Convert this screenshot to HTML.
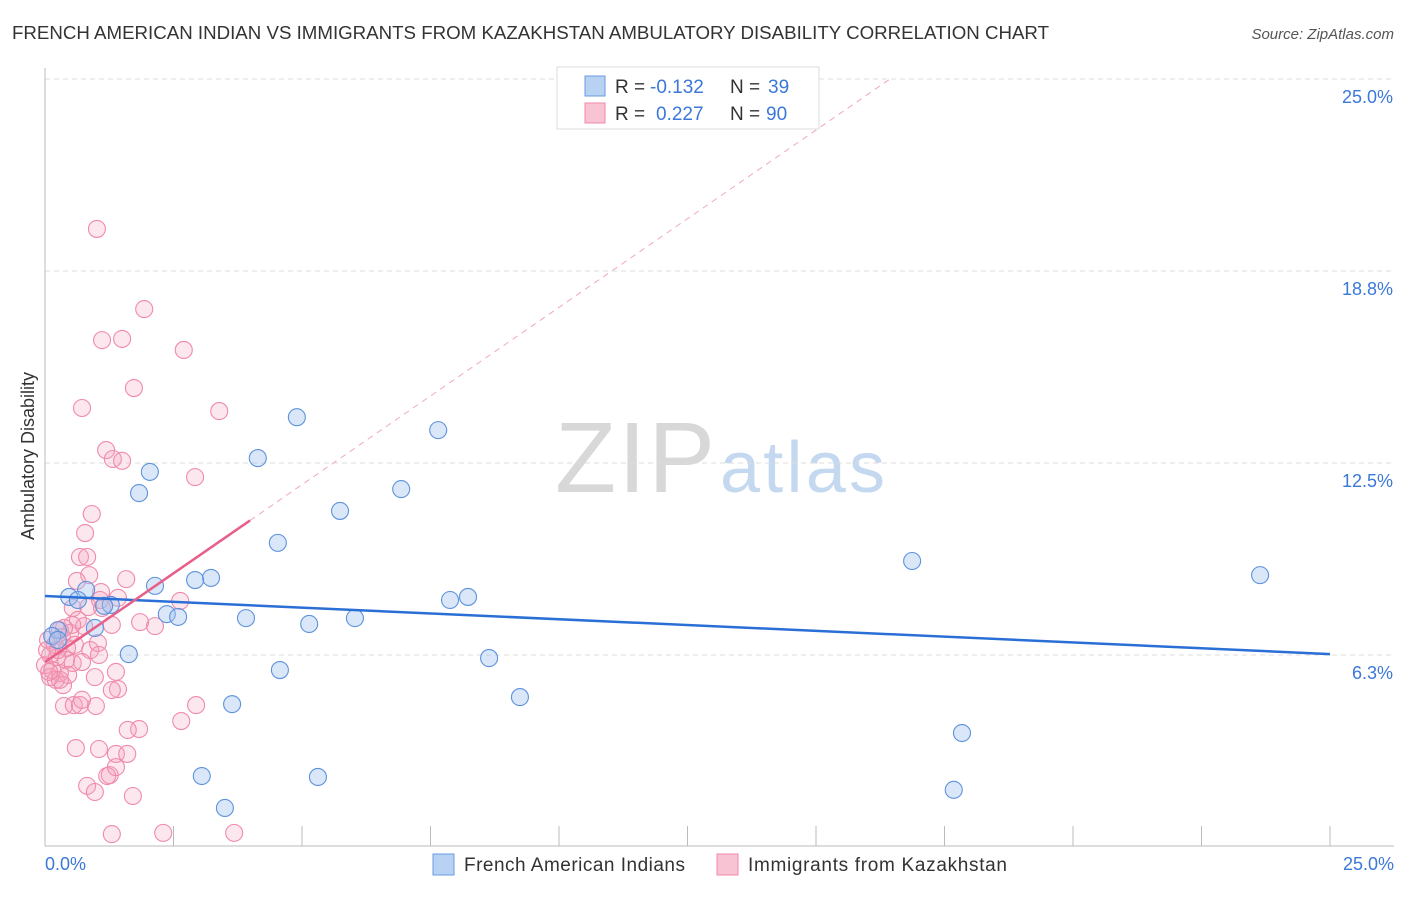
<!DOCTYPE html>
<html><head><meta charset="utf-8"><style>
body{margin:0;background:#fff;font-family:"Liberation Sans",sans-serif;}
svg text{font-family:"Liberation Sans",sans-serif;}
</style></head><body>
<svg id="c" width="1406" height="892">
<text x="12" y="39" font-size="18" fill="#333" textLength="1037" lengthAdjust="spacingAndGlyphs">FRENCH AMERICAN INDIAN VS IMMIGRANTS FROM KAZAKHSTAN AMBULATORY DISABILITY CORRELATION CHART</text>
<text x="1394" y="39" font-size="15" fill="#555" font-style="italic" text-anchor="end">Source: ZipAtlas.com</text>
<text x="555" y="492" font-size="100" fill="#d8d8d8" font-family="Liberation Serif" textLength="160">ZIP</text>
<text x="720" y="492" font-size="72" fill="#c4d8f0" textLength="165">atlas</text>
<text transform="translate(34,456) rotate(-90)" font-size="18" fill="#333" text-anchor="middle">Ambulatory Disability</text>
<g id="grid"></g><g id="pts"></g><g id="lines"></g>
<g>
<rect x="557" y="67" width="262" height="62" fill="#fff" stroke="#ddd"/>
<rect x="585" y="76" width="20" height="20" fill="#b8d2f4" stroke="#6a9be0"/>
<rect x="585" y="103" width="20" height="20" fill="#f8c4d4" stroke="#f08aaa"/>
<text x="615" y="93" font-size="19" fill="#333">R =</text>
<text x="650" y="93" font-size="19" fill="#3b78d8">-0.132</text>
<text x="730" y="93" font-size="19" fill="#333">N =</text>
<text x="768" y="93" font-size="19" fill="#3b78d8">39</text>
<text x="615" y="120" font-size="19" fill="#333">R =</text>
<text x="656" y="120" font-size="19" fill="#3b78d8">0.227</text>
<text x="730" y="120" font-size="19" fill="#333">N =</text>
<text x="766" y="120" font-size="19" fill="#3b78d8">90</text>
</g>
<g>
<rect x="433" y="854" width="21" height="21" fill="#b8d2f4" stroke="#6a9be0"/>
<text x="464" y="871" font-size="19" fill="#333" textLength="221">French American Indians</text>
<rect x="717" y="854" width="21" height="21" fill="#f8c4d4" stroke="#f08aaa"/>
<text x="748" y="871" font-size="19" fill="#333" textLength="259">Immigrants from Kazakhstan</text>
</g>
</svg>
<script>
const yTicks=[6.25,12.5,18.75,25];
const yTickLabels=["6.3%","12.5%","18.8%","25.0%"];
const xTickLabels=["0.0%","25.0%"];
const blueX=[4.90,7.65,4.14,2.04,1.83,6.93,5.74,4.53,16.87,23.64,2.14,3.23,2.92,0.80,0.47,0.64,1.28,1.15,8.23,7.88,2.37,2.59,3.91,6.03,5.14,0.97,0.25,0.14,1.63,8.64,4.57,9.24,3.64,17.84,3.05,5.31,3.50,17.68,0.25];
const blueY=[13.99,13.57,12.66,12.21,11.52,11.65,10.94,9.90,9.31,8.85,8.50,8.76,8.69,8.37,8.14,8.04,7.88,7.85,8.14,8.04,7.58,7.49,7.45,7.45,7.26,7.13,7.06,6.87,6.28,6.15,5.76,4.88,4.65,3.71,2.31,2.28,1.27,1.86,6.74];
const pinkX=[1.01,1.93,1.11,1.50,2.70,1.73,0.72,3.39,1.19,1.32,1.50,2.92,0.91,0.78,0.68,0.82,0.86,0.62,1.58,1.09,1.42,0.84,2.63,0.54,1.85,2.14,1.30,0.64,1.11,0.29,0.33,0.49,0.06,0.19,0.43,0.58,0.88,1.03,0.10,0.23,0.41,0.54,0.00,0.14,0.29,0.45,0.10,0.21,0.35,1.05,0.72,0.97,1.38,1.42,1.30,0.99,0.37,0.56,0.68,0.72,2.94,2.65,1.83,1.61,0.60,1.05,1.38,1.60,0.82,0.97,1.26,1.21,1.38,1.71,3.68,2.30,1.30,0.29,0.08,0.25,0.04,0.76,1.07,0.53,0.37];
const pinkY=[20.12,17.51,16.50,16.54,16.18,14.94,14.29,14.19,12.92,12.63,12.57,12.04,10.84,10.22,9.44,9.44,8.85,8.66,8.72,8.30,8.11,7.81,8.01,7.78,7.32,7.19,7.23,7.39,7.78,7.06,6.84,6.97,6.74,6.58,6.48,6.58,6.41,6.64,6.25,6.18,6.09,5.99,5.92,5.76,5.66,5.60,5.53,5.44,5.27,6.25,6.02,5.53,5.70,5.14,5.11,4.59,4.59,4.62,4.62,4.79,4.62,4.10,3.84,3.81,3.22,3.19,3.03,3.03,1.99,1.79,2.34,2.31,2.60,1.66,0.46,0.46,0.42,5.44,5.70,6.41,6.41,7.19,8.04,7.23,7.13];
const blueTrend=[[0,8.17],[25,6.28]];
const pinkTrend=[[0,6.02],[3.99,10.63]];
const pinkDash=[[3.99,10.63],[16.44,25]];
const NS="http://www.w3.org/2000/svg";
const X=v=>45+v*(1285/25);
const Y=v=>847-v*30.72;
function mk(t,a,p){const e=document.createElementNS(NS,t);for(const k in a)e.setAttribute(k,a[k]);p.appendChild(e);return e;}
const grid=document.getElementById('grid');
yTicks.forEach((t,i)=>{
 const l=mk('line',{x1:45,x2:1394,y1:Y(t),y2:Y(t),stroke:'#ddd','stroke-dasharray':'5,4'},grid);
 
 
 const tx=mk('text',{x:1393,y:Y(t)+24,'font-size':18,fill:'#3b78d8','text-anchor':'end'},grid);
 tx.textContent=yTickLabels[i];
 
 
});
const ax=mk('line',{x1:45,x2:45,y1:68,y2:846,stroke:'#bbb'},grid);


const bx=mk('line',{x1:45,x2:1394,y1:846,y2:846,stroke:'#bbb'},grid);


for(let i=1;i<=10;i++){const t=mk('line',{x1:X(i*2.5),x2:X(i*2.5),y1:826,y2:846,stroke:'#bbb'},grid);
 
 }
[[0,'start',45],[25,'end',1394]].forEach((d,i)=>{const t=mk('text',{x:d[2],y:870,'font-size':18,fill:'#3b78d8','text-anchor':d[1]},grid);t.textContent=xTickLabels[i];
 
 });
const pts=document.getElementById('pts');
pinkX.forEach((x,i)=>{const c=mk('circle',{cx:X(x),cy:Y(pinkY[i]),r:8.5,fill:'rgba(244,160,188,0.25)',stroke:'#f08aaa','stroke-width':1.1},pts);
 
 });
blueX.forEach((x,i)=>{const c=mk('circle',{cx:X(x),cy:Y(blueY[i]),r:8.5,fill:'rgba(160,195,240,0.4)',stroke:'#5e92dc','stroke-width':1.1},pts);
 
 });
const lines=document.getElementById('lines');
const bl=mk('line',{x1:X(blueTrend[0][0]),y1:Y(blueTrend[0][1]),x2:X(blueTrend[1][0]),y2:Y(blueTrend[1][1]),stroke:'#2a6fd6','stroke-width':2.5},lines);


const pl=mk('line',{x1:X(pinkTrend[0][0]),y1:Y(pinkTrend[0][1]),x2:X(pinkTrend[1][0]),y2:Y(pinkTrend[1][1]),stroke:'#e8608a','stroke-width':2.5},lines);


const pd=mk('line',{x1:X(pinkDash[0][0]),y1:Y(pinkDash[0][1]),x2:X(pinkDash[1][0]),y2:Y(pinkDash[1][1]),stroke:'#f0a8bf','stroke-width':1,'stroke-dasharray':'6,5'},lines);


</script>
</body></html>
